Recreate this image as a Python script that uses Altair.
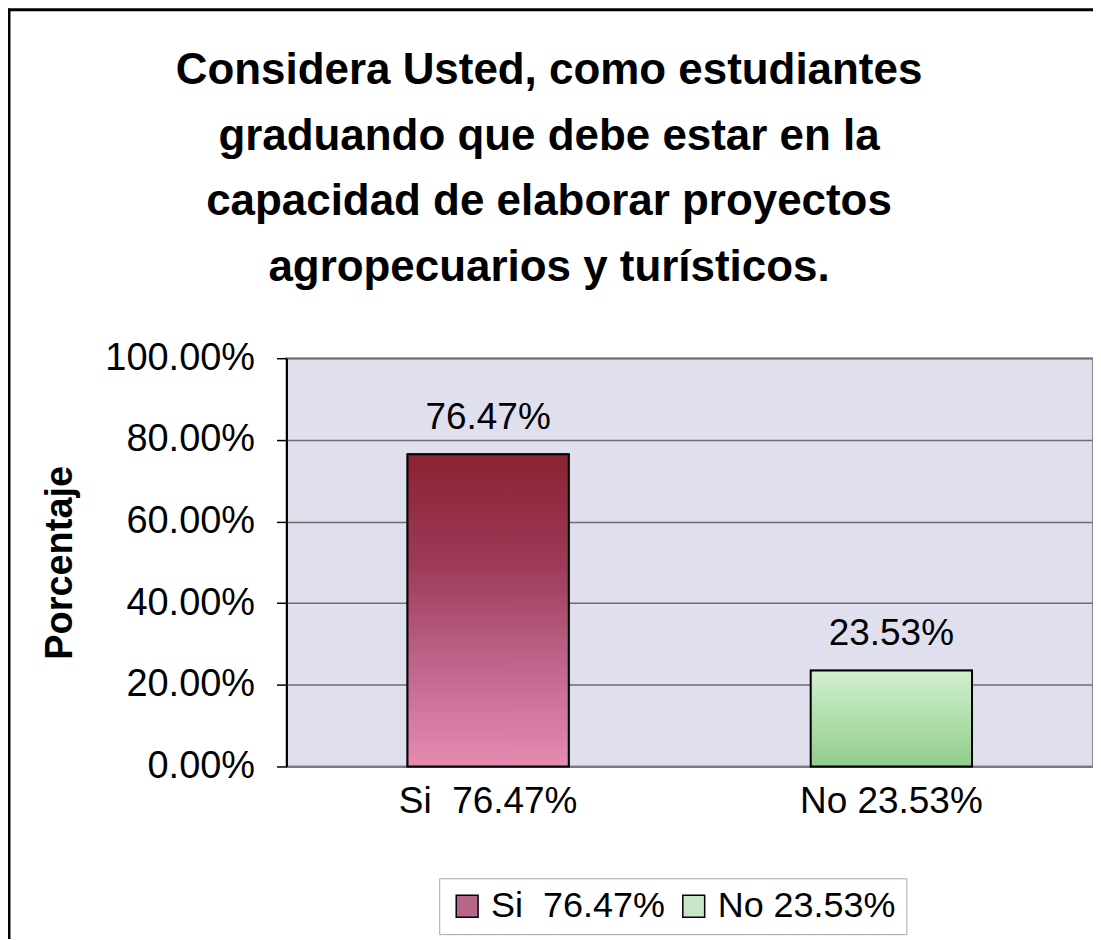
import altair as alt
import pandas as pd

categories = ["Si\u00a0\u00a076.47%", "No 23.53%"]
values = [0.7647, 0.2353]
legend_colors = ["#B8668A", "#C8E6C6"]
title_lines = [
    "Considera Usted, como estudiantes",
    "graduando que debe estar en la",
    "capacidad de elaborar proyectos",
    "agropecuarios y turísticos.",
]
y_ticks = [0, 0.2, 0.4, 0.6, 0.8, 1.0]

df = pd.DataFrame({"cat": categories, "val": values})

FONT = "Liberation Sans"

si_grad = {"gradient": "linear", "x1": 0, "y1": 0, "x2": 0, "y2": 1,
           "stops": [{"offset": 0, "color": "#8C2232"},
                     {"offset": 0.35, "color": "#9C3A58"},
                     {"offset": 0.7, "color": "#C26890"},
                     {"offset": 1, "color": "#E68AB2"}]}
no_grad = {"gradient": "linear", "x1": 0, "y1": 0, "x2": 0, "y2": 1,
           "stops": [{"offset": 0, "color": "#D2F0CE"},
                     {"offset": 1, "color": "#90CE8C"}]}

x_enc = alt.X("cat:N", sort=categories, title=None,
              scale=alt.Scale(paddingInner=0.6, paddingOuter=0.3),
              axis=alt.Axis(labelAngle=0, labelFont=FONT, labelFontSize=37,
                            labelColor="black", labelPadding=17, ticks=False,
                            labelLimit=0,
                            domainColor="#7A7A7A", domainWidth=2, grid=False))
y_enc = alt.Y("val:Q", title="Porcentaje",
              scale=alt.Scale(domain=[0, 1], nice=False),
              axis=alt.Axis(values=y_ticks, format=".2%", labelFont=FONT,
                            labelFontSize=38, labelColor="black", labelPadding=22,
                            tickSize=10, tickColor="black", tickWidth=1.5,
                            domainColor="black", domainWidth=2,
                            grid=True, gridColor="#6E6E6E", gridWidth=1.5,
                            titleFont=FONT, titleFontSize=38, titleFontWeight="bold",
                            titleColor="black", titlePadding=25))

base = alt.Chart(df)

legend_bars = base.mark_bar(stroke="black", strokeWidth=1.5).encode(
    x=x_enc, y=y_enc,
    color=alt.Color("cat:N", sort=categories,
                    scale=alt.Scale(domain=categories, range=legend_colors),
                    legend=alt.Legend(orient="none", legendX=153, legendY=521,
                                      direction="horizontal", columns=2, title=None,
                                      symbolType="square", symbolSize=480,
                                      symbolStrokeColor="black", symbolStrokeWidth=1.5,
                                      labelFont=FONT, labelFontSize=36, labelColor="black",
                                      labelLimit=0, labelOffset=6, columnPadding=10,
                                      strokeColor="#A8A8A8", fillColor="white",
                                      padding=10)),
)

grad_bars = base.mark_bar(stroke="black", strokeWidth=2).encode(
    x=x_enc, y=y_enc,
    fill=alt.condition(alt.datum.cat == categories[0], alt.value(si_grad), alt.value(no_grad)),
)

labels = base.mark_text(baseline="alphabetic", dy=-25, font=FONT, fontSize=37,
                        color="black").encode(
    x=x_enc, y=y_enc, text=alt.Text("val:Q", format=".2%"))

one = alt.Data(values=[{"k": 1}])

title = alt.Chart(one).mark_text(text=title_lines, font=FONT, fontSize=44, fontWeight="bold",
                                 color="black", lineHeight=66, align="center",
                                 baseline="middle").encode(
    x=alt.value(263), y=alt.value(-288))

frame = alt.Chart(one).mark_rule(color="black", strokeWidth=3).encode(
    x=alt.value(-278), y=alt.value(-350), y2=alt.value(600))
frame_top = alt.Chart(one).mark_rule(color="black", strokeWidth=3).encode(
    x=alt.value(-279), x2=alt.value(810), y=alt.value(-349))

chart = alt.layer(legend_bars, grad_bars, labels, title, frame, frame_top).properties(
    width=808, height=409,
    autosize=alt.AutoSizeParams(type="none"),
    padding={"left": 279, "top": 350, "right": 0, "bottom": 172},
).configure_view(fill="#DFDFEE", stroke="#8A8A8A", strokeWidth=2)

chart.save("out.html", embed_options={"renderer": "svg", "actions": False})
